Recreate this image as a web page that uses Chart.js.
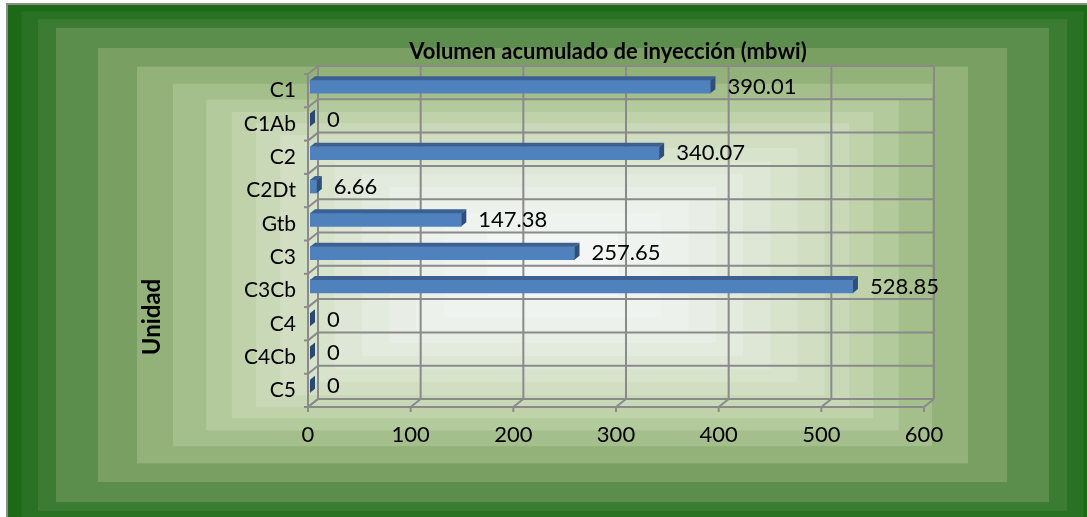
<!DOCTYPE html>
<html>
<head>
<meta charset="utf-8">
<script src="https://cdn.jsdelivr.net/npm/chart.js@4.4.1/dist/chart.umd.min.js"></script>
<style>
  html, body { margin: 0; padding: 0; background: #fff; }
  #wrap { width: 1087px; height: 517px; }
</style>
</head>
<body>
<div id="wrap"><canvas id="myChart" width="1087" height="517"></canvas></div>
<script>
const categories  = ['C1', 'C1Ab', 'C2', 'C2Dt', 'Gtb', 'C3', 'C3Cb', 'C4', 'C4Cb', 'C5'];
const volumes     = [390.01, 0, 340.07, 6.66, 147.38, 257.65, 528.85, 0, 0, 0];
const valueLabels = ['390.01', '0', '340.07', '6.66', '147.38', '257.65', '528.85', '0', '0', '0'];
const xTicks      = [0, 100, 200, 300, 400, 500, 600];

const chartTitle = 'Volumen acumulado de inyección (mbwi)';
const axisTitle  = 'Unidad';

const FONT = "Lato, 'Liberation Sans', sans-serif";
const GRID = '#8a8a8a';
// 3d offsets relative to the plane the bars sit in
const BACK  = { dx: 8,  dy: -4 };
const FRONT = { dx: -2, dy: 4 };
const DEPTH = { dx: 5,  dy: -4 };

// rectangular gradient, outer edge -> centre
const bands = [
  [1.000, '#1c6a16'], [0.975, '#2a7223'], [0.945, '#3b7c32'],
  [0.912, '#5b8d4c'], [0.835, '#7a9f63'], [0.763, '#92b27a'],
  [0.697, '#a4bf8b'], [0.636, '#b3ca9c'], [0.589, '#bfd2aa'],
  [0.545, '#c9d9b7'], [0.500, '#d1dec2'], [0.450, '#d8e3cc'],
  [0.400, '#dee7d6'], [0.350, '#e3ebde'], [0.300, '#e8eee5'],
  [0.250, '#ecf1eb'], [0.200, '#eff3f0'], [0.120, '#f3f6f4']
];

const background = {
  id: 'background',
  beforeDraw(chart) {
    const ctx = chart.ctx;
    const L = 8, T = 5, R = 1097, B = 525;
    const cx = (L + R) / 2, cy = (T + B) / 2, hw = (R - L) / 2, hh = (B - T) / 2;
    ctx.save();
    ctx.fillStyle = '#fff';
    ctx.fillRect(0, 0, chart.width, chart.height);
    bands.forEach(([t, c]) => {
      ctx.fillStyle = c;
      ctx.fillRect(cx - t * hw, cy - t * hh, 2 * t * hw, 2 * t * hh);
    });
    ctx.strokeStyle = '#8c8c8c';
    ctx.lineWidth = 2;
    ctx.strokeRect(L - 1, T - 1, R - L + 2, B - T + 2);
    ctx.restore();
  }
};

const walls = {
  id: 'walls',
  beforeDatasetsDraw(chart) {
    const { ctx, chartArea: a, scales: { x } } = chart;
    const rowH = (a.bottom - a.top) / categories.length;
    const line = (x1, y1, x2, y2) => {
      ctx.beginPath(); ctx.moveTo(x1, y1); ctx.lineTo(x2, y2); ctx.stroke();
    };
    ctx.save();
    ctx.strokeStyle = GRID;
    ctx.lineWidth = 2;
    // back wall
    for (let k = 0; k <= categories.length; k++) {
      const yy = a.top + k * rowH + BACK.dy;
      line(a.left + BACK.dx, yy, a.right + BACK.dx, yy);
    }
    xTicks.forEach(v => {
      const xx = x.getPixelForValue(v) + BACK.dx;
      line(xx, a.top + BACK.dy, xx, a.bottom + BACK.dy);
    });
    // side wall
    const fl = a.left + FRONT.dx;
    line(fl, a.top + FRONT.dy, fl, a.bottom + FRONT.dy);
    for (let k = 0; k <= categories.length; k++) {
      const yy = a.top + k * rowH;
      line(fl - 4, yy + FRONT.dy, fl, yy + FRONT.dy);
      line(fl, yy + FRONT.dy, a.left + BACK.dx, yy + BACK.dy);
    }
    // floor
    const fb = a.bottom + FRONT.dy;
    line(a.left + FRONT.dx, fb, a.right + FRONT.dx, fb);
    xTicks.forEach(v => {
      const xx = x.getPixelForValue(v);
      line(xx + FRONT.dx, fb + 5, xx + FRONT.dx, fb);
      line(xx + FRONT.dx, fb, xx + BACK.dx, a.bottom + BACK.dy);
    });
    ctx.restore();
  }
};

const bars3d = {
  id: 'bars3d',
  afterDatasetsDraw(chart) {
    const ctx = chart.ctx;
    const meta = chart.getDatasetMeta(0);
    ctx.save();
    meta.data.forEach((bar, i) => {
      const { x: xe, y: yc, base, height } = bar.getProps(['x', 'y', 'base', 'height'], true);
      const top = yc - height / 2, bot = yc + height / 2;
      if (xe - base > 0.5) {
        ctx.fillStyle = '#3c6092';
        ctx.beginPath();
        ctx.moveTo(base, top);
        ctx.lineTo(base + DEPTH.dx, top + DEPTH.dy);
        ctx.lineTo(xe + DEPTH.dx, top + DEPTH.dy);
        ctx.lineTo(xe, top);
        ctx.closePath();
        ctx.fill();
      }
      ctx.fillStyle = volumes[i] > 0 ? '#2f4f7b' : '#2a4970';
      ctx.beginPath();
      ctx.moveTo(xe, top);
      ctx.lineTo(xe + DEPTH.dx, top + DEPTH.dy);
      ctx.lineTo(xe + DEPTH.dx, bot + DEPTH.dy);
      ctx.lineTo(xe, bot);
      ctx.closePath();
      ctx.fill();

      ctx.fillStyle = '#000';
      ctx.font = `22px ${FONT}`;
      ctx.textAlign = 'left';
      ctx.textBaseline = 'middle';
      ctx.fillText(valueLabels[i], xe + 17, yc);
    });
    ctx.restore();
  }
};

const titles = {
  id: 'titles',
  afterDraw(chart) {
    const ctx = chart.ctx;
    ctx.save();
    ctx.fillStyle = '#000';
    ctx.textAlign = 'center';
    ctx.textBaseline = 'middle';
    ctx.font = `bold 22px ${FONT}`;
    ctx.fillText(chartTitle, 608, 52);
    ctx.translate(152, 317);
    ctx.rotate(-Math.PI / 2);
    ctx.font = `bold 24px ${FONT}`;
    ctx.fillText(axisTitle, 0, 0);
    ctx.restore();
  }
};

const ctx = document.getElementById('myChart');

new Chart(ctx, {
  type: 'bar',
  data: {
    labels: categories,
    datasets: [{
      data: volumes,
      backgroundColor: '#4f81bd',
      borderWidth: 0,
      barThickness: 13
    }]
  },
  options: {
    indexAxis: 'y',
    responsive: false,
    animation: false,
    events: [],
    layout: { padding: { top: 70, right: 161, left: 0, bottom: 0 } },
    plugins: {
      legend: { display: false },
      title: { display: false },
      tooltip: { enabled: false }
    },
    scales: {
      x: {
        min: 0,
        max: 600,
        ticks: {
          stepSize: 100,
          color: '#000',
          font: { family: FONT, size: 22 },
          padding: 19,
          labelOffset: -2,
          maxRotation: 0
        },
        grid: { display: false, drawTicks: false },
        border: { display: false },
        afterFit(s) { s.height = 114; }
      },
      y: {
        ticks: {
          color: '#000',
          font: { family: FONT, size: 21 },
          padding: 14,
          labelOffset: 4,
          autoSkip: false
        },
        grid: { display: false, drawTicks: false },
        border: { display: false },
        afterFit(s) { s.width = 310; }
      }
    }
  },
  plugins: [background, walls, bars3d, titles]
});
</script>
</body>
</html>
